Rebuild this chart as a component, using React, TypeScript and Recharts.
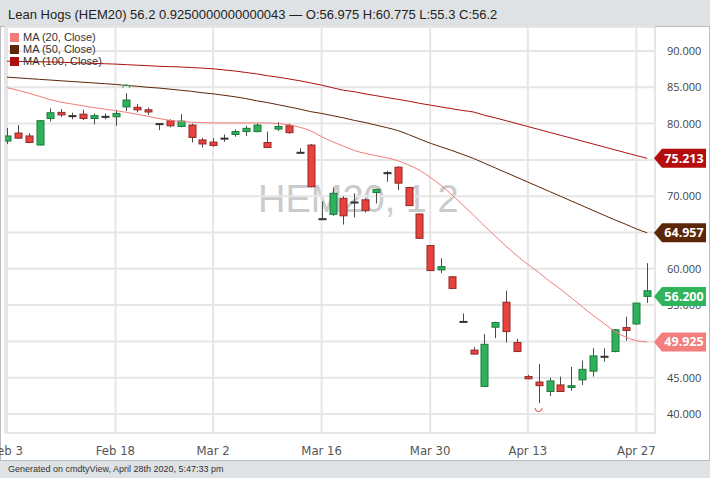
import React from "react";
import { ComposedChart, Bar, Line, XAxis, YAxis, CartesianGrid, ReferenceDot } from "recharts";

// trading days shown (Feb 17 and Apr 10 closed)
const dates = ["Feb 3", "Feb 4", "Feb 5", "Feb 6", "Feb 7", "Feb 10", "Feb 11", "Feb 12", "Feb 13", "Feb 14",
  "Feb 18", "Feb 19", "Feb 20", "Feb 21", "Feb 24", "Feb 25", "Feb 26", "Feb 27", "Feb 28", "Mar 2",
  "Mar 3", "Mar 4", "Mar 5", "Mar 6", "Mar 9", "Mar 10", "Mar 11", "Mar 12", "Mar 13", "Mar 16",
  "Mar 17", "Mar 18", "Mar 19", "Mar 20", "Mar 23", "Mar 24", "Mar 25", "Mar 26", "Mar 27", "Mar 30",
  "Mar 31", "Apr 1", "Apr 2", "Apr 3", "Apr 6", "Apr 7", "Apr 8", "Apr 9", "Apr 13", "Apr 14",
  "Apr 15", "Apr 16", "Apr 17", "Apr 20", "Apr 21", "Apr 22", "Apr 23", "Apr 24", "Apr 27", "Apr 28"];

const open = [77.6, 78.7, 78.3, 77.05, 80.7, 81.55, 81.1, 81.3, 80.7, 80.9,
  80.95, 82.3, 82.25, 81.9, 80.0, 80.4, 79.6, 79.8, 77.75, 77.45,
  77.95, 78.5, 78.9, 78.9, 77.4, 79.25, 79.7, 76.05, 77.05, 66.9,
  67.5, 69.7, 69.1, 69.5, 70.5, 73.1, 74.0, 71.2, 67.55, 63.2,
  59.85, 58.9, 52.75, 48.8, 43.8, 51.95, 55.4, 49.85, 45.15, 44.4,
  43.1, 44.0, 43.65, 44.7, 45.9, 47.85, 48.6, 51.9, 52.4, 56.975];
const high = [79.4, 79.8, 78.7, 80.5, 82.1, 82.0, 81.5, 81.9, 81.4, 81.4,
  81.9, 84.2, 82.7, 82.2, 80.0, 80.6, 81.3, 80.0, 78.05, 78.0,
  78.5, 79.2, 79.7, 80.05, 78.9, 80.2, 80.0, 76.6, 77.2, 69.3,
  71.2, 70.0, 70.4, 69.7, 71.0, 73.5, 74.1, 71.3, 67.6, 63.3,
  61.45, 59.0, 53.85, 49.2, 51.0, 52.7, 57.0, 50.35, 45.4, 46.9,
  45.0, 45.15, 46.5, 47.35, 49.05, 49.05, 51.7, 53.4, 55.3, 60.775];
const low = [77.2, 77.9, 77.3, 77.0, 80.3, 80.9, 80.6, 80.5, 79.9, 80.6,
  79.7, 81.7, 81.55, 81.2, 79.1, 79.5, 79.5, 77.4, 76.7, 76.8,
  77.5, 78.2, 78.3, 78.8, 76.7, 79.0, 78.6, 76.0, 71.2, 66.8,
  67.3, 66.1, 67.1, 67.75, 69.0, 72.0, 70.85, 68.65, 64.1, 59.7,
  59.4, 57.2, 52.7, 48.2, 43.75, 50.45, 49.85, 48.6, 44.8, 41.5,
  42.5, 43.05, 43.2, 44.0, 45.15, 47.2, 48.5, 50.1, 52.3, 55.3];
const close = [78.3, 78.0, 77.4, 80.4, 81.5, 81.2, 81.0, 80.7, 81.1, 81.0,
  81.4, 83.25, 81.9, 81.6, 79.95, 79.7, 80.35, 78.1, 77.2, 77.0,
  78.0, 78.9, 79.35, 79.8, 76.7, 79.6, 78.75, 76.0, 71.3, 66.8,
  70.4, 67.3, 69.2, 68.0, 70.95, 73.25, 71.8, 68.7, 64.2, 59.75,
  60.3, 57.3, 52.7, 48.25, 49.6, 52.6, 51.35, 48.6, 44.85, 43.9,
  44.55, 43.1, 43.9, 46.15, 48.0, 47.95, 51.6, 51.5, 55.275, 56.2];

const ma20 = [84.95, 84.6, 84.2, 83.75, 83.3, 82.95, 82.7, 82.45, 82.2, 82.0,
  81.8, 81.55, 81.3, 81.0, 80.7, 80.45, 80.3, 80.2, 80.15, 80.1,
  80.1, 80.1, 80.1, 80.1, 80.1, 80.0, 79.85, 79.5, 79.0, 78.2,
  77.5, 76.9, 76.3, 75.9, 75.6, 75.3, 74.9, 74.3, 73.6, 72.6,
  71.5, 70.2, 68.8, 67.4, 65.9, 64.5, 63.1, 61.8, 60.6, 59.5,
  58.3, 57.2, 56.0, 54.8, 53.6, 52.5, 51.4, 50.6, 50.1, 49.925];
const ma50 = [86.4, 86.3, 86.2, 86.1, 86.0, 85.9, 85.8, 85.7, 85.6, 85.5,
  85.4, 85.25, 85.15, 85.0, 84.9, 84.75, 84.6, 84.45, 84.25, 84.1,
  83.9, 83.7, 83.45, 83.15, 82.9, 82.6, 82.3, 82.0, 81.65, 81.4,
  81.1, 80.8, 80.45, 80.15, 79.8, 79.45, 79.05, 78.5, 77.9, 77.3,
  76.8, 76.3, 75.75, 75.2, 74.55, 73.9, 73.25, 72.6, 71.95, 71.3,
  70.65, 70.0, 69.35, 68.7, 68.05, 67.4, 66.75, 66.15, 65.5, 64.957];
const ma100 = [88.6, 88.58, 88.55, 88.52, 88.5, 88.45, 88.4, 88.35, 88.3, 88.25,
  88.2, 88.12, 88.05, 87.98, 87.9, 87.85, 87.8, 87.72, 87.65, 87.55,
  87.4, 87.25, 87.05, 86.85, 86.6, 86.4, 86.15, 85.9, 85.6, 85.3,
  84.95, 84.6, 84.4, 84.1, 83.85, 83.6, 83.35, 83.1, 82.8, 82.55,
  82.3, 82.05, 81.8, 81.6, 81.15, 80.8, 80.4, 80.0, 79.6, 79.2,
  78.8, 78.4, 78.0, 77.6, 77.2, 76.8, 76.4, 76.0, 75.6, 75.213];

const xTicks = [0, 10, 19, 29, 39, 48, 58];
const yTicks = [40, 45, 50, 55, 60, 65, 70, 75, 80, 85, 90];
const yDomain = [37.38, 93.31];

const UP = "#2db15a";
const UP_EDGE = "#1d7a3c";
const DOWN = "#e8413e";
const DOWN_EDGE = "#8e2a28";
const C_MA20 = "#f27c7c";
const C_MA50 = "#5c2608";
const C_MA100 = "#ad1010";

const legendItems = [
  { label: "MA (20, Close)", color: C_MA20 },
  { label: "MA (50, Close)", color: C_MA50 },
  { label: "MA (100, Close)", color: C_MA100 },
];

const rows = dates.map((d, i) => ({
  i,
  date: d,
  open: open[i],
  high: high[i],
  low: low[i],
  close: close[i],
  up: i === 0 ? close[i] >= open[i] : close[i] >= close[i - 1],
  ma20: ma20[i],
  ma50: ma50[i],
  ma100: ma100[i],
}));

const last = rows.length - 1;
const hiIdx = high.indexOf(Math.max(...high));
const loIdx = low.indexOf(Math.min(...low));

// last values flagged on the price scale
const badges = [
  { value: ma100[last], fill: "#b50d0d" },
  { value: ma50[last], fill: "#5c2608" },
  { value: close[last], fill: "#2fb45c" },
  { value: ma20[last], fill: "#f47e7e" },
];
const badgeTicks = badges.map((b) => b.value).sort((a, b) => a - b);

function Candle(props: any) {
  const { x, y, width, height, payload } = props;
  if (!payload || height == null) return null;
  const k = height / (payload.high - payload.low);
  const cx = Math.round(x + width / 2) + 0.5;
  const yo = y + (payload.high - payload.open) * k;
  const yc = y + (payload.high - payload.close) * k;
  const top = Math.min(yo, yc);
  const h = Math.max(Math.abs(yo - yc), 1);
  const doji = Math.abs(yo - yc) < 1.5;
  return (
    <g>
      <line x1={cx} x2={cx} y1={y} y2={y + height} stroke="#4a4a4a" strokeWidth={1} />
      <rect
        x={cx - 3.5}
        y={top}
        width={7}
        height={h}
        fill={payload.up ? UP : DOWN}
        stroke={doji ? "#333" : payload.up ? UP_EDGE : DOWN_EDGE}
        strokeWidth={1}
      />
    </g>
  );
}

// drawn by a thin second price axis, so it sits over the tick labels
function BadgeTick(props: any) {
  const { y, payload } = props;
  const b = badges.find((it) => Math.abs(it.value - payload.value) < 1e-6);
  if (!b) return null;
  const x0 = 654;
  return (
    <g>
      <path d={`M${x0},${y} L${x0 + 8},${y - 9.5} L${x0 + 52},${y - 9.5} L${x0 + 52},${y + 9.5} L${x0 + 8},${y + 9.5} Z`} fill={b.fill} />
      <text x={x0 + 30} y={y + 4.5} textAnchor="middle" fill="#fff" fontWeight="bold" fontSize={12.5} fontFamily="'Open Sans', sans-serif">
        {b.value.toFixed(3)}
      </text>
    </g>
  );
}

const HighMark = (p: any) => (
  <path d={`M${p.cx - 3.5},${p.cy - 5} A3.5 3.5 0 0 1 ${p.cx + 3.5},${p.cy - 5}`} fill="none" stroke={UP} strokeWidth={1} />
);
const LowMark = (p: any) => (
  <path d={`M${p.cx - 3.5},${p.cy + 5} A3.5 3.5 0 0 0 ${p.cx + 3.5},${p.cy + 5}`} fill="none" stroke={DOWN} strokeWidth={1} />
);

export default function App() {
  return (
    <div style={{ position: "absolute", left: 0, top: 0, width: 710, height: 478, background: "#dfe2e5", overflow: "hidden" }}>
      <div style={{ position: "absolute", left: 8, top: 8, fontFamily: "'Liberation Sans', Arial, sans-serif", fontSize: 13, lineHeight: "13px", color: "#222", whiteSpace: "nowrap" }}>
        Lean Hogs (HEM20) 56.2 0.9250000000000043 — O:56.975 H:60.775 L:55.3 C:56.2
      </div>
      <div style={{ position: "absolute", left: 0, top: 26, width: 708, height: 433, background: "#fff", border: "1px solid #b9bdc1" }} />
      <div style={{ position: "absolute", left: 5, top: 27, width: 649, height: 405, border: "1px solid #d2d2d2" }} />
      <div style={{ position: "absolute", left: 258, top: 180, fontFamily: "'Liberation Sans', Arial, sans-serif", fontSize: 38, lineHeight: "38px", color: "#cbcbcb", whiteSpace: "pre" }}>
        HEM20, 1 2
      </div>
      <div style={{ position: "absolute", left: 0, top: 0 }}>
        <ComposedChart width={710} height={478} data={rows} margin={{ top: 27, right: 0, bottom: 20, left: 5 }}>
          <CartesianGrid yAxisId="p" stroke="#e6e6e6" strokeWidth={2} />
          <XAxis
            dataKey="i"
            type="number"
            domain={[-0.18, 59.72]}
            allowDataOverflow
            ticks={xTicks}
            interval={0}
            tickFormatter={(v: number) => dates[v]}
            height={25}
            axisLine={false}
            tickLine={false}
            tickMargin={7}
            tick={{ fill: "#555", fontSize: 13, fontFamily: "'Liberation Sans Narrow', 'DejaVu Sans Condensed', sans-serif" }}
          />
          <YAxis
            yAxisId="p"
            orientation="right"
            width={54}
            domain={yDomain}
            allowDataOverflow
            ticks={yTicks}
            interval={0}
            tickFormatter={(v: number) => v.toFixed(3)}
            axisLine={false}
            tickLine={false}
            tickSize={0}
            tickMargin={11}
            tick={{ fill: "#444", fontSize: 11, fontFamily: "'Open Sans', sans-serif", textAnchor: "start" }}
          />
          <YAxis
            yAxisId="b"
            orientation="right"
            width={1}
            domain={yDomain}
            allowDataOverflow
            ticks={badgeTicks}
            interval={0}
            axisLine={false}
            tickLine={false}
            tick={<BadgeTick />}
          />
          <Line yAxisId="b" dataKey="ma100" type="monotone" stroke={C_MA100} strokeWidth={1} dot={false} isAnimationActive={false} />
          <Line yAxisId="b" dataKey="ma50" type="monotone" stroke={C_MA50} strokeWidth={1} dot={false} isAnimationActive={false} />
          <Line yAxisId="b" dataKey="ma20" type="monotone" stroke={C_MA20} strokeWidth={1} dot={false} isAnimationActive={false} />
          <Bar yAxisId="p" dataKey={(d: any) => [d.low, d.high]} barSize={7} shape={<Candle />} isAnimationActive={false} />
          <ReferenceDot yAxisId="p" x={hiIdx} y={high[hiIdx]} r={0} shape={<HighMark />} />
          <ReferenceDot yAxisId="p" x={loIdx} y={low[loIdx]} r={0} shape={<LowMark />} />
        </ComposedChart>
      </div>
      <div style={{ position: "absolute", left: 10, top: 31, fontFamily: "'Liberation Sans', Arial, sans-serif", fontSize: 11, color: "#333", lineHeight: "12px" }}>
        {legendItems.map((it) => (
          <div key={it.label} style={{ display: "flex", alignItems: "center" }}>
            <span style={{ display: "inline-block", width: 9, height: 9, background: it.color, marginRight: 4 }} />
            {it.label}
          </div>
        ))}
      </div>
      <div style={{ position: "absolute", left: 8, top: 465, fontFamily: "'Liberation Sans', Arial, sans-serif", fontSize: 9, lineHeight: "9px", color: "#333", whiteSpace: "nowrap" }}>
        Generated on cmdtyView, April 28th 2020, 5:47:33 pm
      </div>
    </div>
  );
}
